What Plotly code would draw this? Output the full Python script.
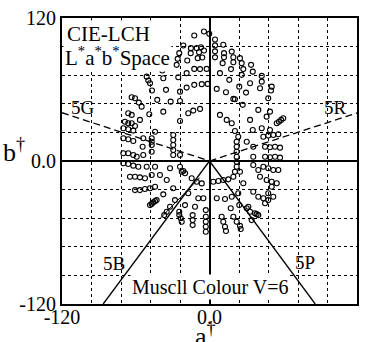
import plotly.graph_objects as go

# ---- data (a*, b* values) ----
upper_a = [-12.4, -4.5, -0.2, -21.3, -15.1, -15.3, -10.4, -6.9, -8.5, -4.5, -24.6, -25.9, -18.1, -9.6, -5.9,
           -38.4, -38.9, -38.4, -38.4, -26.7, -18.6, -12.4, -7.7, -2.3, -51.1, -49.8, -48.4, -46.8, -37.6,
           -25.4, -18.6, -12.4, -6.3, -1.5, -35.4, -24.0, 4.5, 4.5, 4.5, 4.5,
           11.2, 18.1, 11.8, 11.8, 19.4, 19.4, 24.8, 26.2, 10.7, 33.8, 27.5, 17.5, 35.2, 8.5, 42.5, 42.5,
           26.2, 33.0, 16.1, 50.6, 50.0, 24.2, 41.1, 5.9, 13.4, 20.7, 29.7, 47.8,
           -60.6, -55.2, -42.5, -31.6, -24.0, 19.4, -63.3, -57.5]
upper_b = [105.3, 108.7, 106.7, 96.9, 94.7, 90.5, 94.7, 95.5, 91.3, 92.7, 90.5, 85.7, 84.3, 86.3, 86.8,
           85.7, 80.7, 77.9, 75.9, 80.7, 73.7, 77.3, 77.1, 77.3, 70.8, 67.5, 65.3, 59.1, 69.5,
           70.3, 61.6, 63.9, 64.5, 64.7, 59.7, 58.2, 102, 97, 92, 87,
           97.5, 91.8, 90.5, 87.1, 87.1, 82.9, 86.3, 82.1, 82.1, 80.7, 77.1, 77.1, 75.0, 73.7, 71.4, 66.6,
           72.3, 65.3, 68.1, 62.4, 59.1, 62.4, 61.1, 60.5, 57.7, 51.8, 57.4, 52.7,
           52.7, 45.6, 51.3, 49.8, 50.4, 52.1, 53.5, 49.0]

left_a = [-49.0, -37.6, -24.0, -66.1, -63.3, -68.8, -66.1, -63.3, -60.6, -56.6, -44.3, -70.1, -66.1, -62.0,
          -53.9, -70.1, -66.1, -62.0, -47.0, -47.0, -47.0, -54.4, -29.5, -29.5, -29.5, -29.5, -29.5,
          -70.1, -66.1, -62.0, -59.2, -53.9, -47.0, -24.0, -70.1, -66.1, -62.0, -57.9, -51.1, -44.3,
          -32.1, -21.3, -17.3, -13.2, -7.7,
          -64.7, -60.6, -56.6, -52.5, -47.0, -40.3, -34.8, -24.0, -22.6, -19.9, -14.5, -10.4, -6.3,
          -60.6, -56.6, -52.5, -48.4, -44.3, -29.5, -37.6, -17.3]
left_b = [39.2, 41.4, 33.6, 40.1, 38.7, 33.0, 31.7, 31.7, 29.4, 34.5, 24.6, 27.5, 26.6, 25.5,
          19.1, 19.1, 18.2, 16.8, 19.1, 16.2, 13.4, 12.0, 21.8, 17.6, 13.4, 9.2, 5.0,
          6.5, 6.5, 5.0, 3.6, 5.0, 7.8, 5.0, -1.9, -2.5, -3.9, -4.8, -4.8, -4.8,
          -6.1, -8.4, 40.1, 42.3, 43.7,
          -13.2, -13.2, -13.7, -14.5, -11.8, -11.8, -16.0, -4.8, -9.0, -10.3, -14.5, -17.4, -18.8,
          -24.4, -24.4, -23.5, -22.9, -21.6, -22.9, -28.0, -27.1]

lower_a = [-48.4, -47.0, -45.7, -44.3, -43.0, -28.1, -9.1, -19.9, -32.1, -34.8, -36.8, -11.8, -24.6, -24.6,
           -23.4, -22.6, -13.7, -13.7, -13.7, -3.0, -3.0, -3.0, -3.0, -3.0,
           -5.0, 5.9, 12.6, 18.1, 23.4, 35.6, 39.7, 43.8, 47.8, 47.8, 51.9, 50.6, 9.9, 11.2, 12.6, 13.4,
           17.3, 19.4, 22.1, 24.8, 25.4, 24.2, 30.3, 33.0, 37.0, 38.3, 39.7, 31.6, 34.3, 45.2]
lower_b = [-37.0, -36.0, -34.7, -33.7, -32.8, -32.8, -31.3, -37.0, -38.4, -42.6, -45.4, -38.4, -42.6, -45.4,
           -48.1, -51.0, -45.4, -49.6, -53.8, -41.2, -46.8, -51.0, -55.2, -59.4,
           -31.3, -31.3, -31.9, -30.0, -27.1, -25.8, -30.0, -31.3, -32.8, -27.1, -30.0, -21.6, -46.8, -51.0,
           -55.2, -58.8, -39.7, -46.8, -51.0, -54.4, -57.1, -37.0, -39.7, -42.6, -43.9, -44.6, -45.4,
           -38.4, -49.6, -35.5]

right_a = [27.0, 39.7, 49.2, 46.5, 8.5, 14.0, 18.1, 20.7, 33.0, 42.5, 35.2, 54.7, 56.5, 58.3, 60.0,
           23.4, 30.3, 49.2, 43.8, 47.8, 51.9, 56.0, 22.1, 22.1, 22.1, 22.1, 35.6, 45.2, 49.2, 53.3, 57.4,
           35.6, 45.2, 49.2, 53.3, 57.4, 22.1, 22.1, 35.6, 43.8, 47.8, 51.9, 56.0, 24.8, 20.7, 19.4, 39.7,
           3.1, 7.2, 11.2, 15.3, 27.5, 41.1, 46.5, 50.6, 54.7]
right_b = [47.1, 42.9, 41.4, 37.2, 38.7, 34.5, 31.7, 25.2, 34.5, 27.5, 26.0, 31.7, 33.0, 34.5, 35.9,
           20.4, 16.2, 26.0, 20.4, 21.3, 21.8, 22.4, 16.2, 12.0, 7.8, 3.6, 12.0, 12.0, 11.5, 12.0, 11.2,
           3.6, 3.6, 3.1, 3.6, 2.8, -0.6, -4.8, -3.4, -4.8, -6.1, -7.6, -7.6, -9.0, -9.0, -13.2, -7.6,
           -17.4, -16.8, -16.0, -15.4, -18.7, -13.2, -16.0, -17.4, -18.7]

# hue guide lines (end points in a*, b*)
dashed_a = [[-120, 0], [0, 120]]
dashed_b = [[40.5, 0], [0, 40.3]]
solid_a = [[0, -86.5], [0, 86.0], [-8, -40]]
solid_b = [[0, -120], [0, -120], [-14, -48]]

hue_labels = ["5G", "5R", "5B", "5P"]
hue_label_a = [-103.3, 102.9, -78.1, 77.3]
hue_label_b = [44.5, 44.5, -86.1, -84.9]

grid_ticks = [-120, -96, -72, -48, -24, 0, 24, 48, 72, 96, 120]
x_ticktext = ["-120", " ", " ", " ", " ", "0.0", " ", " ", " ", " ", "120"]
y_ticktext = ["-120", " ", " ", " ", " ", "0.0", " ", " ", " ", " ", "120"]

FONT = "Liberation Serif, Times New Roman, serif"

fig = go.Figure()

for xa, yb in zip(dashed_a, dashed_b):
    fig.add_trace(go.Scatter(x=xa, y=yb, mode="lines",
                             line=dict(color="black", width=1.3, dash="7px,4px"),
                             hoverinfo="skip", showlegend=False))
for xa, yb, w in zip(solid_a, solid_b, [1.3, 1.3, 1.0]):
    fig.add_trace(go.Scatter(x=xa, y=yb, mode="lines",
                             line=dict(color="black", width=w),
                             hoverinfo="skip", showlegend=False))

for xa, yb in [(upper_a, upper_b), (left_a, left_b), (lower_a, lower_b), (right_a, right_b)]:
    fig.add_trace(go.Scatter(x=xa, y=yb, mode="markers",
                             marker=dict(symbol="circle-open", size=5, color="black",
                                         line=dict(width=1.1, color="black")),
                             showlegend=False))

axis_common = dict(
    range=[-120, 120], tickmode="array", tickvals=grid_ticks, showgrid=True, gridcolor="black",
    griddash="dot", gridwidth=1, zeroline=True, zerolinecolor="black",
    zerolinewidth=1.5, showline=True, mirror=True, linecolor="black", linewidth=2,
    ticks="", ticklen=0, automargin=False, fixedrange=True,
    tickfont=dict(family=FONT, size=20, color="black"),
)

fig.update_layout(
    width=370, height=342,
    margin=dict(l=62, r=13, t=18, b=38),
    paper_bgcolor="white", plot_bgcolor="white",
    font=dict(family=FONT, color="black"),
    xaxis=dict(axis_common, ticktext=x_ticktext, ticklabelstandoff=-6),
    yaxis=dict(axis_common, ticktext=y_ticktext),
)

annotations = []
for t, xa, yb in zip(hue_labels, hue_label_a, hue_label_b):
    annotations.append(dict(x=xa, y=yb, xref="x", yref="y", text=t, showarrow=False,
                            font=dict(family=FONT, size=19, color="black")))

annotations += [
    dict(x=-117.6, y=106.7, xref="x", yref="y", text="CIE-LCH", showarrow=False,
         xanchor="left", yanchor="middle", bgcolor="white", borderpad=1,
         font=dict(family=FONT, size=21, color="black")),
    dict(x=-119.2, y=87.4, xref="x", yref="y",
         text="L<sup>*</sup>a<sup>*</sup>b<sup>*</sup>Space", showarrow=False,
         xanchor="left", yanchor="middle", bgcolor="white", borderpad=1,
         font=dict(family=FONT, size=21, color="black")),
    dict(x=0.8, y=-105.9, xref="x", yref="y", text="Muscll Colour V=6", showarrow=False,
         xanchor="center", yanchor="middle", bgcolor="white", borderpad=1,
         font=dict(family=FONT, size=20, color="black")),
    dict(x=-0.164, y=8.4, xref="paper", yref="y", text="b<sup>†</sup>", showarrow=False,
         xanchor="center", yanchor="middle",
         font=dict(family=FONT, size=26, color="black")),
    dict(x=-3, y=-0.105, xref="x", yref="paper", text="a<sup>†</sup>", showarrow=False,
         xanchor="center", yanchor="middle",
         font=dict(family=FONT, size=26, color="black")),
]
fig.update_layout(annotations=annotations)

fig.write_html("out.html", config={"displayModeBar": False},
               post_script="document.body.style.margin='0';")
